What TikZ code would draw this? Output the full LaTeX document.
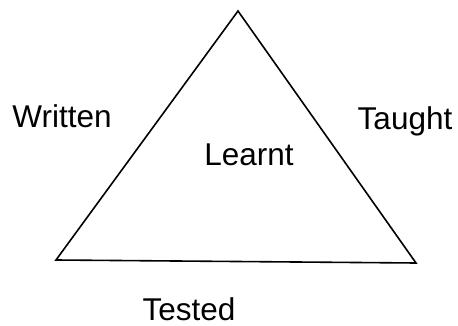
\documentclass[tikz,border=0pt]{standalone}
\usepackage{fontspec}
\setmainfont{Liberation Sans}
\begin{document}
\begin{tikzpicture}[x=1pt,y=-1pt,
  lbl/.style={anchor=base,inner sep=0pt,font=\fontsize{31.5}{37}\selectfont},
  edge/.style={line width=1.6pt,line join=miter}]
\useasboundingbox (0,0) rectangle (458,326);
\coordinate (A) at (238,11);
\coordinate (B) at (56,260);
\coordinate (C) at (416,263);
\draw[edge] (A) -- (B) -- (C) -- cycle;
\node[lbl] (written) at (62,128) {Written};
\node[lbl] (taught) at (405,130) {Taught};
\node[lbl] (learnt) at (249,165) {Learnt};
\node[lbl] (tested) at (189,320) {Tested};
\end{tikzpicture}
\end{document}
